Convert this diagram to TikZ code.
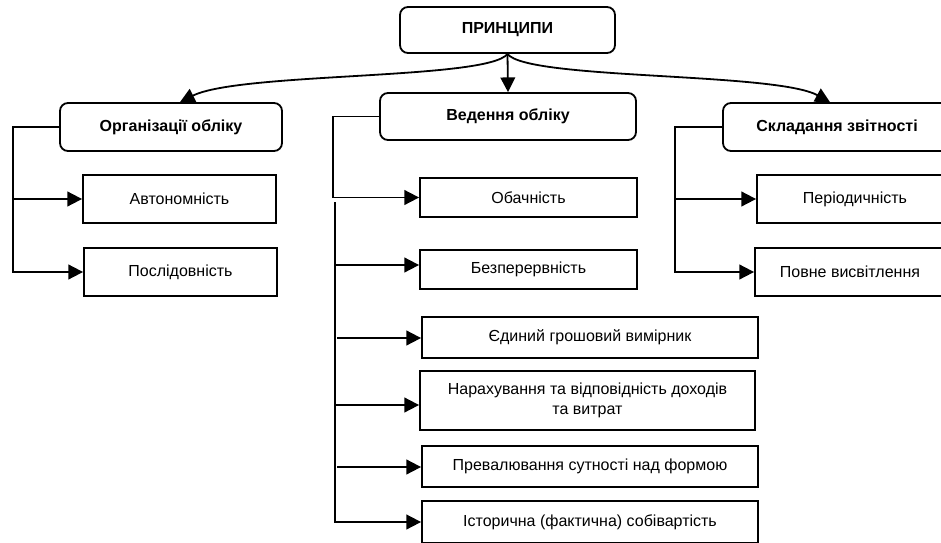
\documentclass[tikz,border=0pt]{standalone}
\usepackage{fontspec}
\setmainfont{Liberation Sans}
\usetikzlibrary{arrows.meta}
\tikzset{
 base/.style={draw, line width=1.35pt, inner sep=2pt, align=center, font=\fontsize{12}{15}\selectfont},
 rbox/.style={base, rounded corners=6pt, font=\fontsize{12}{15}\selectfont\bfseries},
 pbox/.style={base},
 conn/.style={line width=1.35pt},
 arr/.style={conn, -{Triangle[length=11pt,width=11pt]}},
}
\begin{document}
\begin{tikzpicture}[x=0.75pt,y=-0.75pt]
\useasboundingbox (0,0) rectangle (941,542);
\clip (0,0) rectangle (941,542);
% top level
\node[rbox, minimum width=161.25pt, minimum height=34.5pt] (top) at (507.5,30) {ПРИНЦИПИ};
\node[rbox, minimum width=166.5pt, minimum height=36pt] (org) at (171,127) {Організації обліку};
\node[rbox, minimum width=192pt, minimum height=35.25pt] (ved) at (508,116.5) {Ведення обліку};
\node[rbox, minimum width=171pt, minimum height=36pt] (skl) at (837,127) {Складання звітності};
% left column
\node[pbox, minimum width=144.75pt, minimum height=36pt] (avt) at (179.5,199) {Автономність};
\node[pbox, minimum width=144.75pt, minimum height=36pt] (pos) at (180.5,272) {Послідовність};
% middle column
\node[pbox, minimum width=162.75pt, minimum height=29.25pt] (oba) at (528.5,197.5) {Обачність};
\node[pbox, minimum width=162.75pt, minimum height=29.25pt] (bez) at (528.5,269.5) {Безперервність};
\node[pbox, minimum width=252pt, minimum height=30.75pt] (edy) at (590,337.5) {Єдиний грошовий вимірник};
\node[pbox, minimum width=251.25pt, minimum height=44.25pt] (nar) at (587.5,400.5) {Нарахування та відповідність доходів\\та витрат};
\node[pbox, minimum width=252pt, minimum height=30.75pt] (pre) at (590,466.5) {Превалювання сутності над формою};
\node[pbox, minimum width=252pt, minimum height=31.5pt] (ist) at (590,522) {Історична (фактична) собівартість};
% right column
\node[pbox, minimum width=147pt, minimum height=36pt] (per) at (855,199) {Періодичність};
\node[pbox, minimum width=142.5pt, minimum height=36pt] (pov) at (850,272) {Повне висвітлення};
% connectors from the top
\draw[arr] (top.south) .. controls (488,80) and (240,72) .. ([xshift=6.75pt]org.north);
\draw[arr] (top.south) -- (ved.north);
\draw[arr] (top.south) .. controls (527,80) and (775,72) .. ([xshift=-5.25pt]skl.north);
% left tree
\coordinate (oc) at (13,0);
\draw[arr] (org.west) -| (oc |- pos.west) -- (pos.west);
\draw[arr] (oc |- avt.west) -- (avt.west);
% middle tree
\coordinate (vc) at (333,0);
\coordinate (vd) at (335,202);
\draw[arr] (ved.west) -| (vc |- oba.west) -- (oba.west);
\draw[arr] (vd) |- (ist.west);
\coordinate (b1) at (335,265);
\draw[arr] (b1) -- (b1 -| bez.west);
\coordinate (b2) at (337,338);
\draw[arr] (b2) -- (b2 -| edy.west);
\coordinate (b3) at (335,405);
\draw[arr] (b3) -- (b3 -| nar.west);
\coordinate (b4) at (337,467);
\draw[arr] (b4) -- (b4 -| pre.west);
% right tree
\coordinate (sc) at (675,0);
\draw[arr] (skl.west) -| (sc |- pov.west) -- (pov.west);
\draw[arr] (sc |- per.west) -- (per.west);
\end{tikzpicture}
\end{document}
